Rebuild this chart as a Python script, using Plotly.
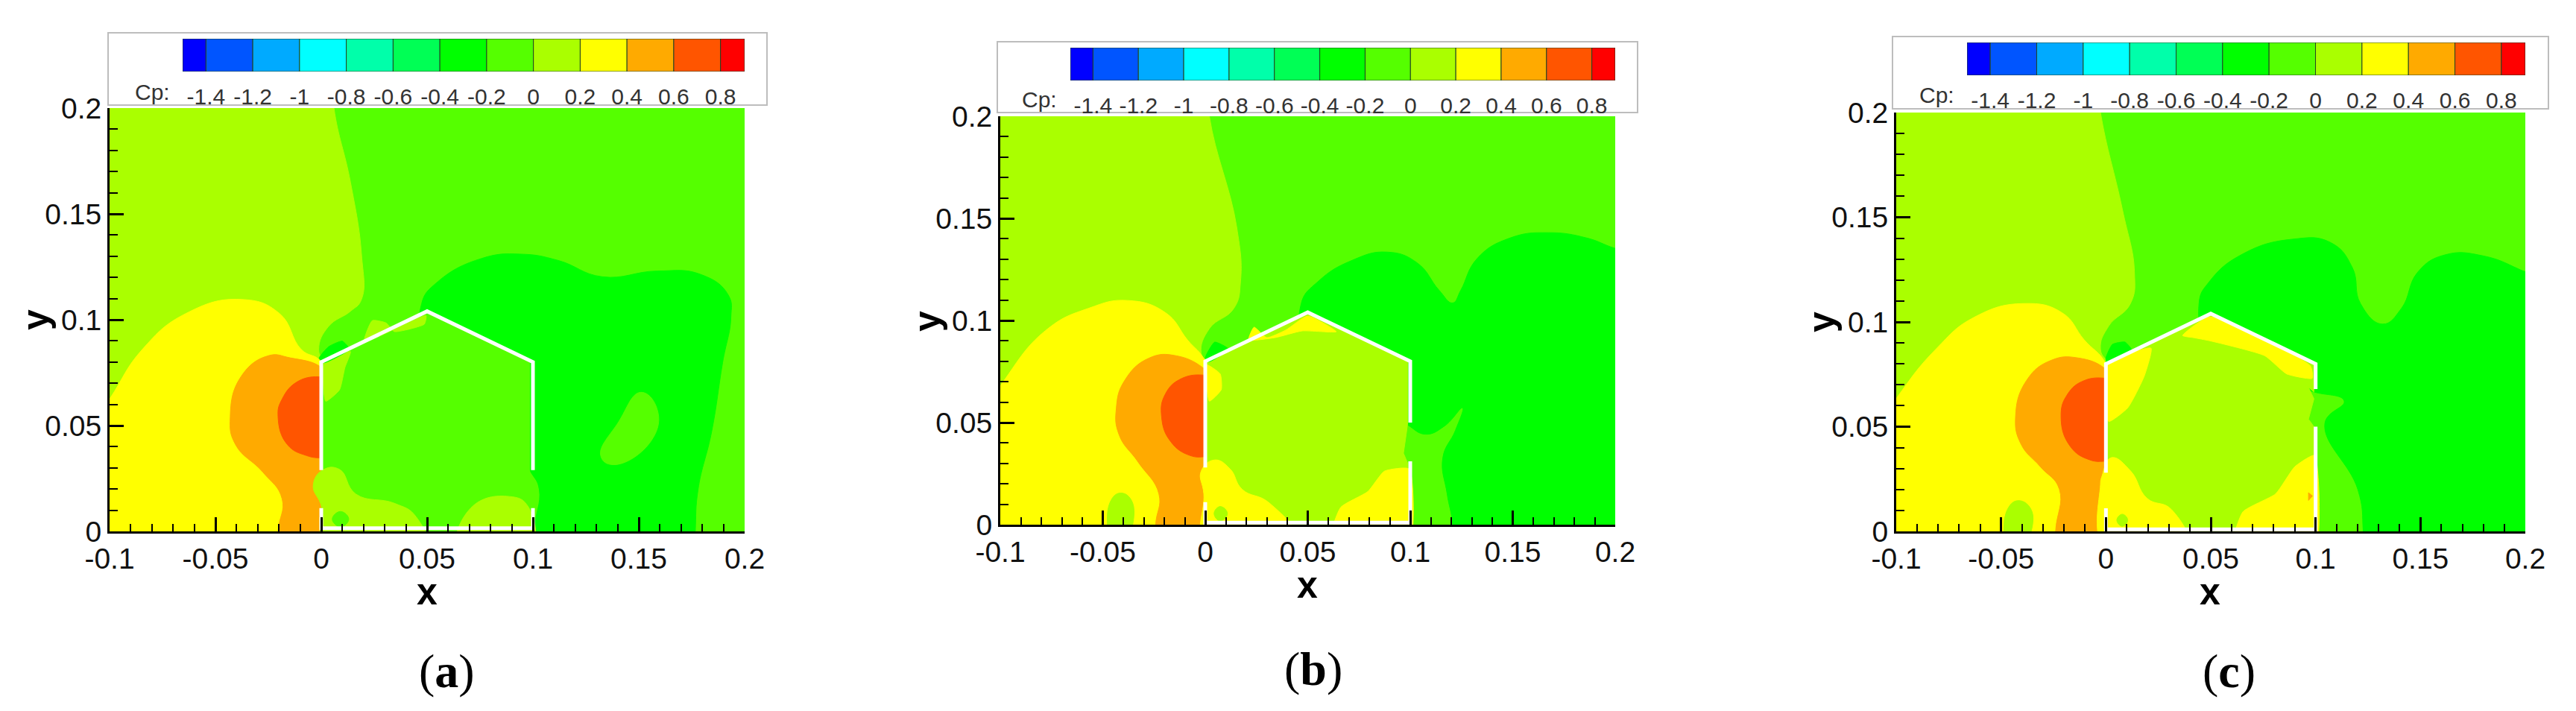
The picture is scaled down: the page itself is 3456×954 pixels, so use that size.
import plotly.graph_objects as go

# ---------- colour bar ----------
LEVEL_EDGES = [-1.5, -1.4, -1.2, -1.0, -0.8, -0.6, -0.4, -0.2, 0.0, 0.2, 0.4, 0.6, 0.8, 0.903]
LEVEL_COLORS = ["#0000ff", "#0055ff", "#00aaff", "#00ffff", "#00ffaa", "#00ff55", "#00ff00",
                "#55ff00", "#aaff00", "#ffff00", "#ffaa00", "#ff5500", "#ff0000"]
LEVEL_TICKS = [-1.4, -1.2, -1.0, -0.8, -0.6, -0.4, -0.2, 0, 0.2, 0.4, 0.6, 0.8]
LEVEL_TEXT = ["-1.4", "-1.2", "-1", "-0.8", "-0.6", "-0.4", "-0.2", "0", "0.2", "0.4", "0.6", "0.8"]

X_TICKS = [-0.1, -0.05, 0, 0.05, 0.1, 0.15, 0.2]
X_TEXT = ["-0.1", "-0.05", "0", "0.05", "0.1", "0.15", "0.2"]
Y_TICKS = [0, 0.05, 0.1, 0.15, 0.2]
Y_TEXT = ["0", "0.05", "0.1", "0.15", "0.2"]

BACKGROUND = [(-0.1, 0), (0.2, 0), (0.2, 0.2), (-0.1, 0.2)]

# ---------- panel (a) contour regions: x, y ----------
A_HIGH = [(-0.13, 0.23), (0.004, 0.23), (0.006, 0.2), (0.0138, 0.165), (0.019, 0.131), (0.019, 0.1096),
          (0.0138, 0.104), (0.0034, 0.0968), (-0.0012, 0.086), (0.002, 0.078), (0.005, 0.05), (0.005, -0.03), (-0.13, -0.03)]
A_YELLOW = [(-0.115, 0.04), (-0.1, 0.0625), (-0.0845, 0.086), (-0.0638, 0.103), (-0.038, 0.1096), (-0.0198, 0.103),
            (-0.0095, 0.086), (0, 0.08), (0.005, 0.06), (0.005, -0.03), (-0.13, -0.03)]
A_ORANGE = [(-0.043, 0.054), (-0.038, 0.073), (-0.025, 0.083), (-0.0147, 0.082), (0, 0.0775), (0.005, 0.07),
            (0.005, -0.02), (-0.0204, -0.02), (-0.0204, 0), (-0.0185, 0.0154), (-0.0276, 0.028), (-0.0405, 0.041), (-0.043, 0.054)]
A_RED = [(0.004, 0.072), (0, 0.073), (-0.0108, 0.071), (-0.0185, 0.0625), (-0.0204, 0.054), (-0.016, 0.041),
         (-0.0069, 0.0358), (0, 0.0347), (0.004, 0.035)]
A_GREEN = [(0.0474, 0.1075), (0.0551, 0.118), (0.0759, 0.129), (0.094, 0.131), (0.112, 0.128), (0.1327, 0.1203),
           (0.1586, 0.123), (0.1793, 0.1214), (0.1922, 0.1118), (0.1935, 0.101), (0.1896, 0.0797), (0.1845, 0.0475),
           (0.178, 0.0197), (0.1767, 0), (0.176, -0.02), (0.1004, -0.02), (0.1004, 0), (0.103, 0.0197), (0.099, 0.028),
           (0.09, 0.04), (0.09, 0.07), (0.05, 0.09), (0.0474, 0.1075)]
A_GREEN_HOLE = [(0.1508, 0.0657), (0.1586, 0.058), (0.156, 0.043), (0.138, 0.0315), (0.132, 0.0358), (0.1405, 0.0518), (0.1508, 0.0657)]
A_INSIDE = [(0, 0.08), (0.05, 0.104), (0.0985, 0.08), (0.0985, 0), (0, 0)]
A_IN_ROOF = [(0.0203, 0.0896), (0.0241, 0.0996), (0.0306, 0.0985), (0.0345, 0.0944), (0.0422, 0.0957), (0.0487, 0.0979), (0.0495, 0.102), (0.0203, 0.0896)]
A_IN_LEFT = [(0.0014, 0.0797), (0.0138, 0.085), (0.0112, 0.0775), (0.0086, 0.0668), (0.0021, 0.0615), (0.0014, 0.0797)]
A_IN_SPOT = [(-0.001, 0.0818), (0.0034, 0.0872), (0.0099, 0.0899), (0.0133, 0.0861), (0.0014, 0.0797), (-0.001, 0.0818)]
A_IN_BL = [(-0.0038, 0.0218), (0.0009, 0.0291), (0.0086, 0.0293), (0.0164, 0.0176), (0.0345, 0.0133), (0.0448, 0.0069),
           (0.0495, -0.01), (0.0014, -0.01), (0.0003, 0.0111), (-0.0038, 0.0218)]
A_IN_BR = [(0.065, -0.01), (0.0707, 0.0111), (0.0888, 0.0165), (0.0978, 0.0116), (0.0983, -0.01), (0.065, -0.01)]
A_IN_DOT = [(0.0091, 0.0094), (0.013, 0.0058), (0.0091, 0.0021), (0.0052, 0.0058), (0.0091, 0.0094)]
A_WALLS = [(0, 0.029), (0, 0.08), (0.05, 0.104), (0.1, 0.08), (0.1, 0.029), (None, None),
           (0, 0.011), (0, 0.0015), (0.1, 0.0015), (0.1, 0.011)]

# ---------- panel (b) contour regions ----------
B_HIGH = [(-0.13, 0.23), (0.0, 0.23), (0.002, 0.2), (0.0153, 0.146), (0.0172, 0.119), (0.014, 0.106), (0.002, 0.096),
          (-0.002, 0.084), (0.002, 0.078), (0.005, 0.05), (0.005, -0.03), (-0.13, -0.03)]
B_YELLOW = [(-0.115, 0.045), (-0.1, 0.068), (-0.078, 0.095), (-0.0568, 0.106), (-0.038, 0.1098), (-0.0194, 0.1038),
            (-0.0087, 0.0905), (0, 0.08), (0.005, 0.06), (0.005, -0.03), (-0.13, -0.03)]
B_YELLOW_SPOT = [(-0.0466, -0.01), (-0.0466, 0.0106), (-0.0413, 0.0155), (-0.0354, 0.0106), (-0.038, -0.01)]
B_ORANGE = [(-0.0434, 0.057), (-0.0394, 0.0705), (-0.0274, 0.0816), (-0.014, 0.0827), (0, 0.076), (0.005, 0.07),
            (0.005, -0.02), (-0.0242, -0.02), (-0.0242, 0), (-0.0226, 0.015), (-0.0327, 0.0306), (-0.042, 0.0439), (-0.0434, 0.057)]
B_RED = [(0.004, 0.072), (0, 0.0732), (-0.0115, 0.0716), (-0.0195, 0.0639), (-0.0213, 0.0528), (-0.0168, 0.0406),
         (-0.0075, 0.0339), (0, 0.0333), (0.004, 0.034)]
B_GREEN = [(0.0468, 0.1082), (0.0553, 0.1193), (0.0713, 0.1293), (0.0887, 0.1335), (0.1034, 0.1282), (0.114, 0.1149),
           (0.1207, 0.1086), (0.1247, 0.1149), (0.1327, 0.1304), (0.1487, 0.1404), (0.1674, 0.143), (0.1861, 0.1404),
           (0.2, 0.1353), (0.22, 0.13), (0.22, -0.02), (0.1207, -0.02), (0.1207, 0), (0.118, 0.0151), (0.1159, 0.0328),
           (0.122, 0.0461), (0.1255, 0.0572), (0.1167, 0.0483), (0.1074, 0.0443), (0.0988, 0.0488), (0.09, 0.055),
           (0.09, 0.07), (0.05, 0.09), (0.0468, 0.1082)]
B_INSIDE = [(0, 0.08), (0.05, 0.104), (0.0988, 0.08), (0.0988, 0.05), (0.098, 0.044), (0.0967, 0.035), (0.0988, 0.03), (0.0988, 0), (0, 0)]
B_IN_ROOF = [(0.0212, 0.0905), (0.0238, 0.0967), (0.03, 0.0916), (0.0393, 0.0953), (0.05, 0.1022), (0.0639, 0.0945),
             (0.0473, 0.0949), (0.034, 0.0916), (0.0212, 0.0905)]
B_IN_LEFT = [(0.0006, 0.0783), (0.0073, 0.0738), (0.0078, 0.0661), (0.002, 0.0605), (0.0006, 0.0783)]
B_IN_BL = [(-0.002, 0.0262), (0.0046, 0.0317), (0.0121, 0.0273), (0.018, 0.0173), (0.0313, 0.0106), (0.046, -0.01),
           (0.0006, -0.01), (-0.0007, 0.0151), (-0.002, 0.0262)]
B_IN_BR = [(0.0607, -0.01), (0.066, 0.0084), (0.0793, 0.0162), (0.0874, 0.0262), (0.0995, 0.0273), (0.0995, -0.01), (0.0607, -0.01)]
B_IN_DOT = [(0.0073, 0.0089), (0.0108, 0.0055), (0.0073, 0.0018), (0.0043, 0.0055), (0.0073, 0.0089)]
B_IN_SPOT = [(0, 0.0816), (0.0046, 0.0894), (0.0113, 0.086), (0.0019, 0.0798), (0, 0.0816)]
B_WALLS = [(0, 0.028), (0, 0.08), (0.05, 0.104), (0.1, 0.08), (0.1, 0.05), (None, None),
           (0.1, 0.031), (0.1, 0.001), (0, 0.001), (0, 0.011)]

# ---------- panel (c) contour regions ----------
C_HIGH = [(-0.13, 0.23), (-0.006, 0.23), (-0.0026, 0.2), (0.0078, 0.154), (0.0136, 0.1239), (0.0117, 0.1088), (0.0013, 0.098),
          (-0.0026, 0.0871), (0.002, 0.078), (0.005, 0.05), (0.005, -0.03), (-0.13, -0.03)]
C_YELLOW = [(-0.115, 0.04), (-0.1, 0.0634), (-0.081, 0.0871), (-0.0627, 0.1023), (-0.0392, 0.1088), (-0.0209, 0.1044),
            (-0.0104, 0.0915), (0, 0.08), (0.005, 0.06), (0.005, -0.03), (-0.13, -0.03)]
C_YELLOW_SPOT = [(-0.0475, -0.01), (-0.0475, 0.0093), (-0.0418, 0.0147), (-0.0352, 0.0093), (-0.0392, -0.01)]
C_ORANGE = [(-0.0431, 0.0547), (-0.0379, 0.072), (-0.0261, 0.0817), (-0.0131, 0.0828), (0, 0.0774), (0.005, 0.07),
            (0.005, -0.02), (-0.024, -0.02), (-0.024, 0), (-0.0222, 0.0201), (-0.0313, 0.0309), (-0.0405, 0.0417), (-0.0431, 0.0547)]
C_RED = [(0.004, 0.072), (0, 0.0731), (-0.0104, 0.072), (-0.0183, 0.0655), (-0.0214, 0.0547), (-0.017, 0.0406),
         (-0.0078, 0.0342), (0, 0.0335), (0.004, 0.034)]
C_GREEN = [(0.0444, 0.1088), (0.0496, 0.1196), (0.0653, 0.1325), (0.0888, 0.1395), (0.107, 0.138), (0.1175, 0.126),
           (0.1214, 0.1088), (0.1319, 0.099), (0.141, 0.1066), (0.1488, 0.1239), (0.1619, 0.1321), (0.1802, 0.1315),
           (0.2, 0.1239), (0.22, 0.115), (0.22, -0.02), (0.1227, -0.02), (0.1227, 0), (0.1201, 0.0201), (0.1044, 0.0515),
           (0.1136, 0.0623), (0.0992, 0.0666), (0.09, 0.07), (0.05, 0.09), (0.0444, 0.1088)]
C_INSIDE = [(0, 0.08), (0.05, 0.104), (0.0992, 0.08), (0.0992, 0.0666), (0.0966, 0.0688), (0.0992, 0.0633), (0.0966, 0.0536),
            (0.0992, 0.05), (0.0992, 0), (0, 0)]
C_IN_ROOF = [(0.0366, 0.0935), (0.0496, 0.1025), (0.0975, 0.079), (0.0984, 0.0731), (0.0862, 0.0752), (0.0757, 0.0839),
             (0.0496, 0.091), (0.0418, 0.0925), (0.0366, 0.0935)]
C_IN_LEFT = [(0.0005, 0.0796), (0.0215, 0.0875), (0.0183, 0.0742), (0.0104, 0.059), (0.0013, 0.0525), (0.0005, 0.0796)]
C_IN_BL = [(-0.0018, 0.0266), (0.0026, 0.0352), (0.0118, 0.0288), (0.0196, 0.0158), (0.0313, 0.0104), (0.0392, -0.01),
           (0.0005, -0.01), (-0.0026, 0.0223), (-0.0018, 0.0266)]
C_IN_BR = [(0.06, -0.01), (0.0653, 0.0093), (0.0809, 0.0179), (0.0901, 0.0309), (0.0995, 0.0363), (0.0995, -0.01), (0.06, -0.01)]
C_IN_DOT = [(0.0078, 0.0082), (0.0104, 0.0054), (0.0078, 0.0024), (0.0052, 0.0054), (0.0078, 0.0082)]
C_IN_SPOT = [(0, 0.0828), (0.0031, 0.0893), (0.0091, 0.0904), (0.0125, 0.0861), (0.0005, 0.08), (0, 0.0828)]
C_IN_TINY = [(0.0966, 0.0185), (0.0985, 0.0169), (0.0966, 0.0148), (0.0966, 0.0185)]
C_WALLS = [(0, 0.028), (0, 0.08), (0.05, 0.104), (0.1, 0.08), (0.1, 0.068), (None, None),
           (0.1, 0.05), (0.1, 0.001), (0, 0.001), (0, 0.011)]

LINEAR, SPLINE, SOFT = 0, 1.3, 0.5
L = "#55ff00"; H = "#aaff00"; Y = "#ffff00"; O = "#ffaa00"; R = "#ff5500"; G = "#00ff00"
PANELS = [
    dict(label="a", plot=(147, 999, 145, 713), box=(145, 1029, 44, 141), bar=(245, 999, 52, 96), cp=(204, 123),
         xl=(573, 794), yl=(48, 429), tag=(599, 900),
         layers=[(BACKGROUND, L, LINEAR), (A_HIGH, H, SPLINE), (A_YELLOW, Y, SPLINE), (A_ORANGE, O, SPLINE), (A_RED, R, SPLINE),
                 (A_GREEN, G, SPLINE), (A_GREEN_HOLE, L, SPLINE), (A_INSIDE, L, LINEAR), (A_IN_ROOF, H, SOFT),
                 (A_IN_LEFT, H, SOFT), (A_IN_SPOT, G, SOFT), (A_IN_BL, H, SPLINE), (A_IN_BR, H, SPLINE), (A_IN_DOT, L, SPLINE)],
         walls=A_WALLS),
    dict(label="b", plot=(1342, 2167, 156, 704), box=(1338, 2197, 56, 151), bar=(1436, 2167, 64, 108), cp=(1394, 133),
         xl=(1754, 785), yl=(1244, 431), tag=(1762, 897),
         layers=[(BACKGROUND, L, LINEAR), (B_HIGH, H, SPLINE), (B_YELLOW, Y, SPLINE), (B_YELLOW_SPOT, H, SPLINE), (B_ORANGE, O, SPLINE),
                 (B_RED, R, SPLINE), (B_GREEN, G, SPLINE), (B_INSIDE, H, LINEAR), (B_IN_ROOF, Y, SOFT), (B_IN_LEFT, Y, SOFT),
                 (B_IN_BL, Y, SPLINE), (B_IN_BR, Y, SOFT), (B_IN_DOT, H, SPLINE), (B_IN_SPOT, G, SOFT)],
         walls=B_WALLS),
    dict(label="c", plot=(2544, 3388, 151, 713), box=(2539, 3419, 49, 146), bar=(2639, 3388, 57, 101), cp=(2598, 128),
         xl=(2965, 794), yl=(2444, 432), tag=(2990, 900),
         layers=[(BACKGROUND, L, LINEAR), (C_HIGH, H, SPLINE), (C_YELLOW, Y, SPLINE), (C_YELLOW_SPOT, H, SPLINE), (C_ORANGE, O, SPLINE),
                 (C_RED, R, SPLINE), (C_GREEN, G, SPLINE), (C_INSIDE, H, LINEAR), (C_IN_ROOF, Y, SOFT), (C_IN_LEFT, Y, SOFT),
                 (C_IN_BL, Y, SPLINE), (C_IN_BR, Y, SOFT), (C_IN_DOT, H, SPLINE), (C_IN_SPOT, G, SOFT), (C_IN_TINY, O, LINEAR)],
         walls=C_WALLS),
]

W, H_PX = 3456, 954
PAGE_INSET = 8  # the page's own body margin
px = lambda v: (v - PAGE_INSET) / W
py = lambda v: 1 - (v - PAGE_INSET) / H_PX
FONT = "Liberation Sans"

fig = go.Figure()
shapes, annotations, axes = [], [], {}
for i, p in enumerate(PANELS):
    n1, n2 = 2 * i + 1, 2 * i + 2
    x0, x1, y0, y1 = p["plot"]
    xa, ya = f"x{n1}", f"y{n1}"
    for pts, color, smooth in p["layers"]:
        line = dict(color=color, width=1, shape="linear")
        if smooth:
            line.update(shape="spline", smoothing=smooth)
        fig.add_trace(go.Scatter(x=[q[0] for q in pts], y=[q[1] for q in pts], xaxis=xa, yaxis=ya, mode="lines",
                                 fill="toself", fillcolor=color, line=line, hoverinfo="skip", showlegend=False))
    fig.add_trace(go.Scatter(x=[q[0] for q in p["walls"]], y=[q[1] for q in p["walls"]], xaxis=xa, yaxis=ya, mode="lines",
                             line=dict(color="white", width=5), hoverinfo="skip", showlegend=False))
    axis_common = dict(showgrid=False, zeroline=False, showline=True, linecolor="black", linewidth=3, automargin=False,
                       ticks="inside", tickcolor="black", tickwidth=3,
                       tickfont=dict(family=FONT, size=39, color="#111111"))
    axes[f"xaxis{n1}"] = dict(axis_common, domain=[px(x0), px(x1)], anchor=ya, range=[-0.1, 0.2],
                              tickvals=X_TICKS, ticktext=X_TEXT, ticklen=19,
                              minor=dict(dtick=0.01, tick0=0, ticks="inside", ticklen=10, tickcolor="black", tickwidth=2))
    axes[f"yaxis{n1}"] = dict(axis_common, domain=[py(y1), py(y0)], anchor=xa, range=[0, 0.2],
                              tickvals=Y_TICKS, ticktext=Y_TEXT, ticklen=19,
                              minor=dict(dtick=0.01, tick0=0, ticks="inside", ticklen=11, tickcolor="black", tickwidth=2))
    # colour bar
    bx0, bx1, by0, by1 = p["bar"]
    fig.add_trace(go.Bar(x=[LEVEL_EDGES[k + 1] - LEVEL_EDGES[k] for k in range(len(LEVEL_COLORS))], base=LEVEL_EDGES[:-1],
                         y=[0] * len(LEVEL_COLORS), orientation="h", width=1, xaxis=f"x{n2}", yaxis=f"y{n2}",
                         marker=dict(color=LEVEL_COLORS, line=dict(color="#224422", width=1)), hoverinfo="skip", showlegend=False))
    axes[f"xaxis{n2}"] = dict(domain=[px(bx0), px(bx1)], anchor=f"y{n2}", range=[LEVEL_EDGES[0], LEVEL_EDGES[-1]],
                              tickvals=LEVEL_TICKS, ticktext=LEVEL_TEXT, showgrid=False, zeroline=False, showline=False,
                              automargin=False, ticks="outside", ticklen=7, tickcolor="rgba(0,0,0,0)",
                              tickfont=dict(family=FONT, size=30, color="#333333"))
    axes[f"yaxis{n2}"] = dict(domain=[py(by1), py(by0)], anchor=f"x{n2}", range=[-0.5, 0.5], visible=False, fixedrange=True, automargin=False)
    b0, b1, b2, b3 = p["box"]
    shapes.append(dict(type="rect", xref="paper", yref="paper", x0=px(b0), x1=px(b1), y0=py(b3), y1=py(b2),
                       fillcolor="white", line=dict(color="#bdbdbd", width=2), layer="below"))
    annotations += [
        dict(x=px(p["cp"][0]), y=py(p["cp"][1]), text="Cp:", font=dict(family=FONT, size=30, color="#333333")),
        dict(x=px(p["xl"][0]), y=py(p["xl"][1]), text="<b>x</b>", font=dict(family=FONT, size=50, color="black")),
        dict(x=px(p["yl"][0]), y=py(p["yl"][1]), text="<b>y</b>", textangle=-90, font=dict(family=FONT, size=50, color="black")),
        dict(x=px(p["tag"][0]), y=py(p["tag"][1]), text=f"(<b>{p['label']}</b>)", font=dict(family="Liberation Serif", size=64, color="black")),
    ]
for a in annotations:
    a.update(xref="paper", yref="paper", showarrow=False, xanchor="center", yanchor="middle")

fig.update_layout(width=W, height=H_PX, margin=dict(l=0, r=0, t=0, b=0), paper_bgcolor="white", plot_bgcolor="rgba(0,0,0,0)",
                  showlegend=False, shapes=shapes, annotations=annotations, barmode="overlay", **axes)
fig.write_html("out.html")
